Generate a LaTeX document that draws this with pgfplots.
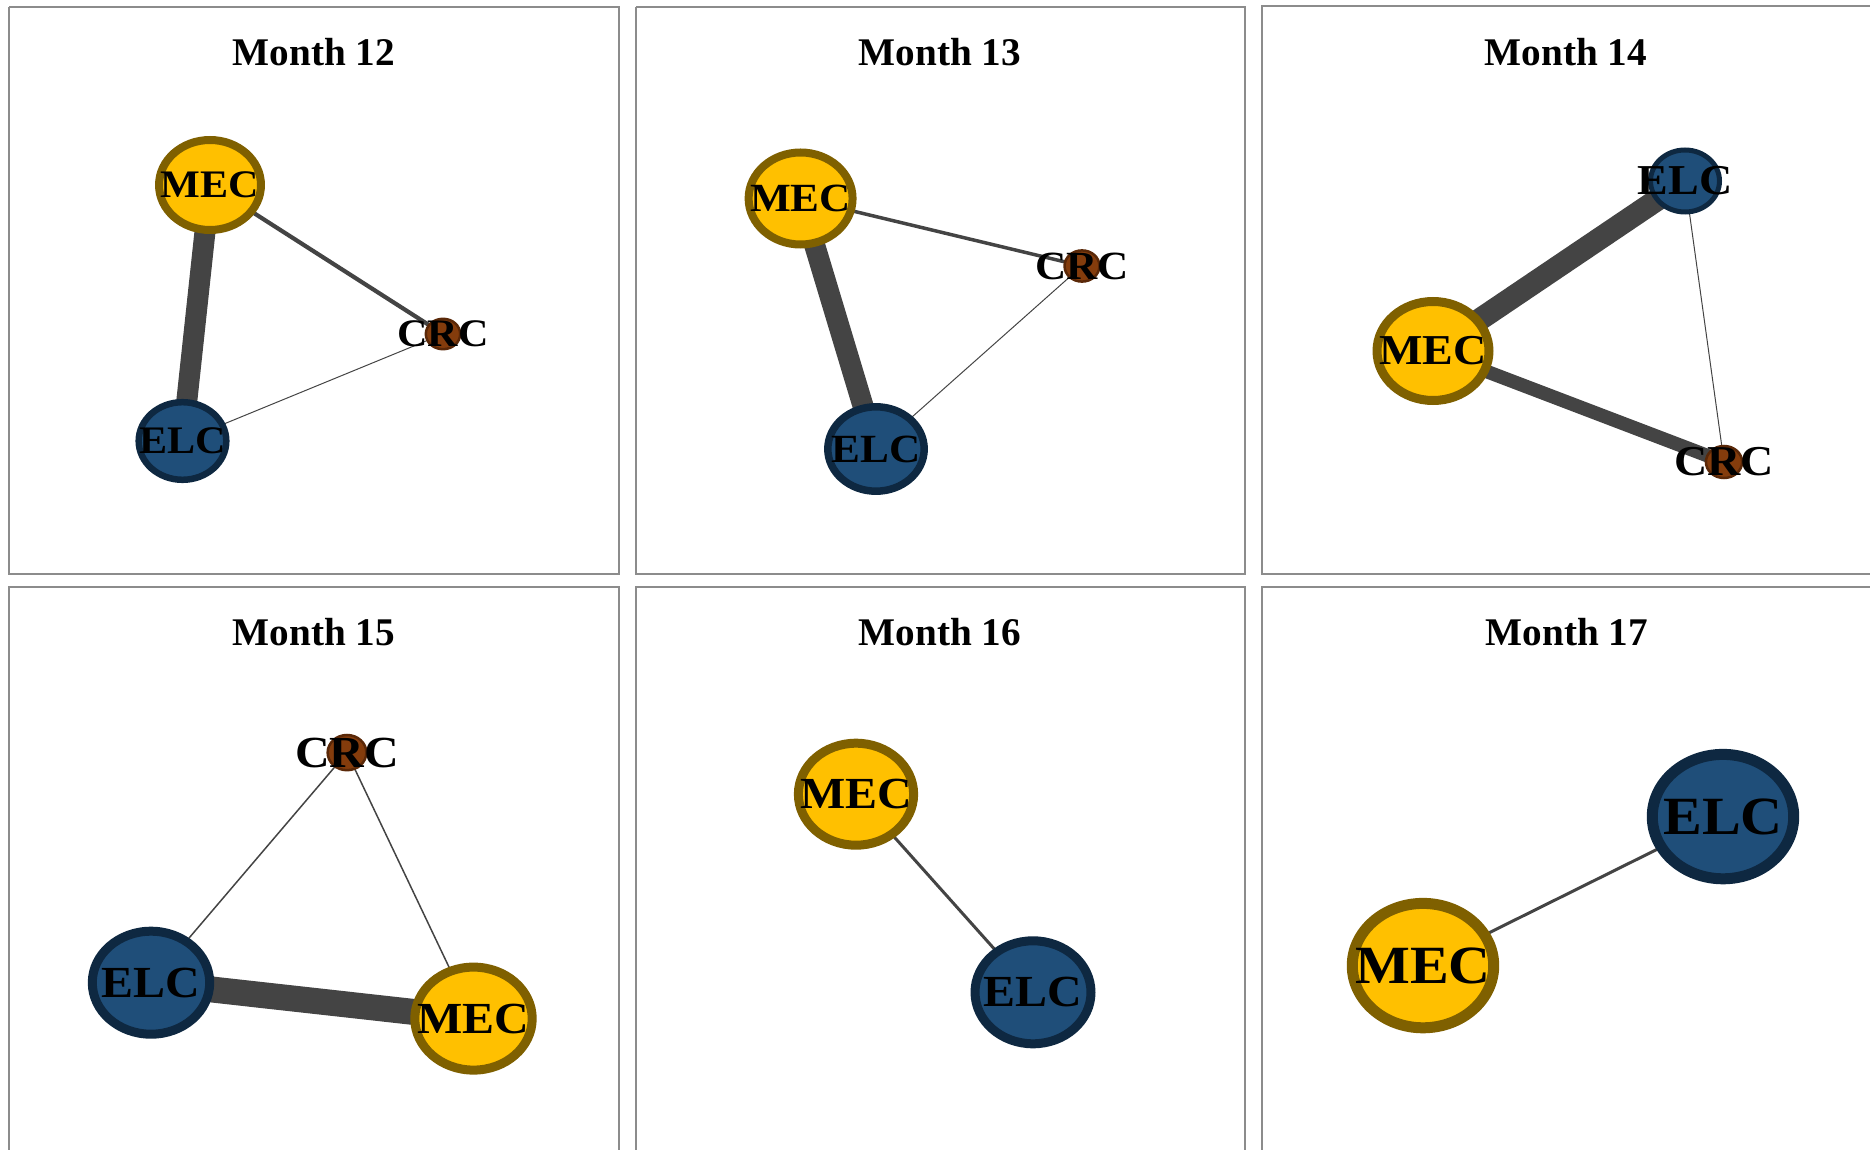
\documentclass[border=0pt]{standalone}
\usepackage{fontspec}
\setmainfont{Liberation Serif}
\newfontfamily\labfont[FakeStretch=1.08]{Liberation Serif}
\usepackage{pgfplots}
\pgfplotsset{compat=1.18}
\definecolor{mecfill}{HTML}{FFC000}
\definecolor{mecline}{HTML}{7F6000}
\definecolor{elcfill}{HTML}{1F4E79}
\definecolor{elcline}{HTML}{0E2841}
\definecolor{crcfill}{HTML}{843C0C}
\definecolor{crcline}{HTML}{5A2808}
\definecolor{edgec}{HTML}{444444}
\definecolor{framec}{HTML}{8C8C8C}
\pgfplotsset{
  netnode/.style n args={6}{only marks, mark=*, mark size=#1,
     mark options={xscale=#2, fill=#3, draw=#4, line width=#5},
     point meta=explicit symbolic, nodes near coords,
     every node near coord/.append style={anchor=center, inner sep=0pt, text=black,
        font=\labfont\bfseries\fontsize{#6}{#6}\selectfont}},
  link/.style={draw=edgec, line width=#1, line cap=butt, mark=none},
  frame/.style={draw=framec, line width=1pt, mark=none, line join=miter},
  ttl/.style={draw=none, mark=none, point meta=explicit symbolic, nodes near coords,
     every node near coord/.append style={anchor=center, inner sep=0pt, text=black,
        font=\bfseries\fontsize{19.6}{20}\selectfont}},
}
\begin{document}
\begin{tikzpicture}
\begin{axis}[width=935pt, height=575pt, scale only axis,
  xmin=0, xmax=1870, ymin=0, ymax=1150, y dir=reverse, hide axis]
\addplot[draw=none, mark=none] coordinates {(0,0) (1870,1150)};
% panel frames
\addplot[frame] coordinates {(9,7) (619,7) (619,574) (9,574) (9,7)};
\addplot[frame] coordinates {(636,7) (1245,7) (1245,574) (636,574) (636,7)};
\addplot[frame] coordinates {(1870,6) (1262,6) (1262,573.5) (1870,573.5)};
\addplot[frame] coordinates {(9,1150) (9,587) (619,587) (619,1150)};
\addplot[frame] coordinates {(636,1150) (636,587) (1245,587) (1245,1150)};
\addplot[frame] coordinates {(1870,587) (1262,587) (1262,1150)};
% titles
\addplot[ttl] coordinates {(314,52) [Month 12] (940,52) [Month 13] (1566,52) [Month 14]
  (314,632) [Month 15] (940,632) [Month 16] (1567,632) [Month 17]};
% ---- Month 12
\addplot[link=10.5pt] coordinates {(210,185) (182.5,441)};
\addplot[link=2.1pt] coordinates {(210,185) (443,334)};
\addplot[link=0.5pt] coordinates {(182.5,441) (443,334)};
\addplot[netnode={22.5}{1.133}{mecfill}{mecline}{4pt}{19.5}] coordinates {(210,185) [MEC]};
\addplot[netnode={19.4}{1.129}{elcfill}{elcline}{3.25pt}{19.5}] coordinates {(182.5,441) [ELC]};
\addplot[netnode={7.6}{1.13}{crcfill}{crcline}{1.25pt}{19.5}] coordinates {(443,334) [CRC]};
% ---- Month 13
\addplot[link=10.5pt] coordinates {(800.6,198.5) (876,449)};
\addplot[link=1.75pt] coordinates {(800.6,198.5) (1082,266)};
\addplot[link=0.5pt] coordinates {(876,449) (1082,266)};
\addplot[netnode={23}{1.13}{mecfill}{mecline}{4pt}{20}] coordinates {(800.6,198.5) [MEC]};
\addplot[netnode={21.1}{1.142}{elcfill}{elcline}{3.75pt}{20}] coordinates {(876,449) [ELC]};
\addplot[netnode={7.8}{1.12}{crcfill}{crcline}{1.25pt}{20}] coordinates {(1082,266) [CRC]};
% ---- Month 14
\addplot[link=11.2pt] coordinates {(1433,351) (1685,181)};
\addplot[link=6.8pt] coordinates {(1433,351) (1724,462)};
\addplot[link=0.5pt] coordinates {(1685,181) (1724,462)};
\addplot[netnode={24.75}{1.131}{mecfill}{mecline}{4.5pt}{21.3}] coordinates {(1433,351) [MEC]};
\addplot[netnode={15.5}{1.113}{elcfill}{elcline}{2.5pt}{21.3}] coordinates {(1685,181) [ELC]};
\addplot[netnode={8}{1.13}{crcfill}{crcline}{1.25pt}{21.3}] coordinates {(1724,462) [CRC]};
% ---- Month 15
\addplot[link=13pt] coordinates {(151,982.7) (473.5,1018.6)};
\addplot[link=0.75pt] coordinates {(151,982.7) (347,752.6)};
\addplot[link=0.75pt] coordinates {(473.5,1018.6) (347,752.6)};
\addplot[netnode={25.75}{1.14}{elcfill}{elcline}{4.5pt}{22.2}] coordinates {(151,982.7) [ELC]};
\addplot[netnode={25.75}{1.14}{mecfill}{mecline}{4.5pt}{22.2}] coordinates {(473.5,1018.6) [MEC]};
\addplot[netnode={8.8}{1.1}{crcfill}{crcline}{1.25pt}{22.2}] coordinates {(347,752.6) [CRC]};
% ---- Month 16
\addplot[link=1.5pt] coordinates {(856,794.2) (1033,992.3)};
\addplot[netnode={25.5}{1.13}{mecfill}{mecline}{4.5pt}{22.2}] coordinates {(856,794.2) [MEC]};
\addplot[netnode={25.75}{1.126}{elcfill}{elcline}{4.5pt}{22.2}] coordinates {(1033,992.3) [ELC]};
% ---- Month 17
\addplot[link=1.5pt] coordinates {(1423,965.6) (1723,816.6)};
\addplot[netnode={31.1}{1.137}{mecfill}{mecline}{5.5pt}{26.9}] coordinates {(1423,965.6) [MEC]};
\addplot[netnode={31.1}{1.137}{elcfill}{elcline}{5.5pt}{26.9}] coordinates {(1723,816.6) [ELC]};
\end{axis}
\end{tikzpicture}
\end{document}
